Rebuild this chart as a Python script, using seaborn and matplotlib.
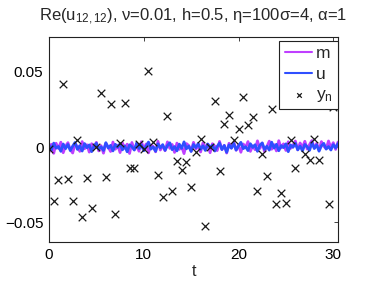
import numpy as np
import pandas as pd
import matplotlib
matplotlib.use("Agg")
import matplotlib.pyplot as plt
import seaborn as sns

# time grid of the filtered path (step 0.25)
t_grid = np.arange(0, 30.51, 0.25)

# u (blue) and m (magenta), values in units of 1e-3
u_vals = [1.2, -2.1, 2.6, -0.8, 0.4, -2.9, 2.0, -1.1, 1.7, -2.4,
          0.6, 3.0, -1.6, 0.9, -2.7, 2.3, -0.5, 1.4, -3.1, 0.8,
          2.5, -1.3, 0.1, -2.3, 2.9, -0.7, 1.1, -2.6, 1.8, -0.2,
          2.2, -1.9, 0.7, -3.2, 1.5, 0.2, -2.0, 2.7, -1.0, 1.3,
          -2.5, 0.5, 3.3, -1.4, 0.0, -2.8, 2.1, -0.6, 1.6, -2.2,
          0.9, 2.8, -1.8, 0.3, -2.6, 1.9, -0.9, 3.4, -1.2, 0.6,
          -3.0, 1.7, -0.4, 2.4, -1.5, 0.8, -2.3, 2.0, -0.1, 1.2,
          -2.7, 0.4, 2.6, -1.7, 1.0, -3.5, 1.4, -0.8, 2.3, -2.0,
          0.7, 3.1, -1.1, 0.2, -2.4, 2.2, -0.3, 1.5, -2.9, 1.1,
          2.7, -1.6, 0.5, -2.1, 3.2, -0.7, 1.8, -2.5, 0.9, -0.4,
          2.1, -3.1, 1.3, -0.2, 2.5, -1.9, 0.6, -2.6, 1.7, 0.1,
          -2.2, 2.9, -1.0, 1.4, -2.8, 0.8, 2.4, -1.4, 0.3, -2.0,
          1.6, -0.6, 2.3]
m_vals = [-3.5, 1.8, -4.2, 2.5, -1.0, 3.2, -3.8, 0.6, 2.9, -1.8,
          -4.0, 2.1, 0.3, -2.9, 3.6, -1.2, 1.5, -3.4, 2.2, -0.5,
          3.1, -2.6, 0.9, -4.1, 2.4, 0.0, -3.0, 3.3, -1.5, 1.2,
          -3.7, 2.7, -0.8, 1.9, -4.3, 3.0, -1.9, 0.7, -2.8, 3.5,
          -1.1, 2.0, -3.9, 1.4, 0.4, -3.2, 3.8, -2.0, 0.8, -2.5,
          3.4, -0.9, 1.7, -3.6, 2.6, -1.6, 0.2, -4.4, 2.3, 1.0,
          -2.7, 3.1, -1.3, 0.6, -3.3, 2.8, -0.4, 1.9, -3.8, 2.2,
          0.5, -2.4, 3.7, -1.7, 1.1, -4.0, 2.5, -0.7, 3.2, -2.2,
          1.3, -3.5, 2.0, -0.2, 3.6, -2.9, 0.8, -1.8, 4.1, -1.0,
          2.6, -3.1, 0.4, 3.9, -1.5, 1.6, -2.6, 4.2, -0.6, 2.1,
          -2.3, 3.5, -0.9, 1.2, 4.0, -1.9, 2.7, -0.3, 3.8, -1.4,
          1.7, 4.3, -0.8, 2.4, -2.0, 3.6, 0.5, -1.1, 4.0, -0.5,
          2.9, -1.6, 3.3]

# observations y_n
obs_t = [0, 0.5, 1.0, 1.5, 2.0, 2.5, 3.0, 3.5, 4.0, 4.5,
         5.0, 5.5, 6.0, 6.5, 7.0, 7.5, 8.0, 8.5, 9.0, 9.5,
         10.0, 10.5, 11.0, 11.5, 12.0, 12.5, 13.0, 13.5, 14.0, 14.5,
         15.0, 15.5, 16.0, 16.5, 17.0, 17.5, 18.0, 18.5, 19.0, 19.5,
         20.0, 20.5, 21.0, 21.5, 22.0, 22.5, 23.0, 23.5, 24.0, 24.5,
         25.0, 25.5, 26.0, 27.0, 27.5, 28.0, 28.5, 29.5, 30.0]
obs_y = [-1.0, -35.8, -22.0, 41.8, -21.3, -35.8, 4.5, -46.9, -20.9, -40.4,
         0.0, 35.8, -19.8, 28.7, -44.7, 2.4, 29.0, -14.2, -13.8, 2.2,
         -1.3, 50.7, 3.5, -18.7, -33.1, 20.9, -29.1, -9.1, -15.3, -10.2,
         -26.4, -3.0, 5.5, -52.7, 0.0, 30.5, -16.2, 15.6, 21.3, 4.7,
         12.2, 33.0, 14.7, 20.2, -29.1, -4.7, -19.3, 25.1, -38.0, -30.9,
         -37.1, 4.7, -14.2, -4.7, -8.9, 5.3, -8.9, -38.0, 26.7]

df_path = pd.DataFrame({'t': t_grid, 'm': np.array(m_vals) * 1e-3, 'u': np.array(u_vals) * 1e-3})
df_obs = pd.DataFrame({'t': obs_t, 'y': np.array(obs_y) * 1e-3})

sns.set_style('white')
plt.rcParams['font.family'] = ['Liberation Sans', 'DejaVu Sans']
plt.rcParams['mathtext.fontset'] = 'custom'
plt.rcParams['mathtext.rm'] = 'Liberation Sans'
plt.rcParams['mathtext.it'] = 'Liberation Sans:italic'

fig = plt.figure(figsize=(3.74, 2.81), dpi=100)
ax = fig.add_axes([49 / 374, 1 - 242 / 281, 289 / 374, 205 / 281])

sns.lineplot(data=df_path, x='t', y='m', ax=ax, color='#bf3fff', lw=2.0, label='m')
sns.lineplot(data=df_path, x='t', y='u', ax=ax, color='#2f4fff', lw=2.0, label='u')
sns.scatterplot(data=df_obs, x='t', y='y', ax=ax, marker='x', color='#1a1a1a',
                s=30, linewidth=0.9, label=r'$\mathregular{y_n}$', zorder=3)

ax.set_xlim(0, 30.5)
ax.set_ylim(-0.0633, 0.0733)
ax.set_xticks([0, 10, 20, 30])
ax.set_yticks([-0.05, 0, 0.05])
ax.set_yticklabels(['\u22120.05', '0', '0.05'])
ax.tick_params(direction='in', length=3, width=0.6, top=True, right=True,
               labelsize=11, pad=4, colors='#222222', labelcolor='black')
for sp in ax.spines.values():
    sp.set_color('#222222')
    sp.set_linewidth(0.8)

ax.set_xlabel('t', fontsize=11.5, labelpad=2)
ax.set_ylabel('')
ax.set_title(r'Re(u$\mathregular{_{12,12}}$), ν=0.01, h=0.5, η=100σ=4, α=1',
             fontsize=12, pad=12)

leg = ax.legend(loc='upper right', bbox_to_anchor=(1.0, 0.98), borderaxespad=0,
                fontsize=12.5, handlelength=1.6, handletextpad=0.2, labelspacing=0.3,
                borderpad=0.3, fancybox=False, framealpha=1, markerscale=0.6)
leg.get_frame().set_edgecolor('#222222')
leg.get_frame().set_linewidth(0.8)
for line in leg.get_lines():
    line.set_linewidth(1.5)

fig.savefig('out.png', dpi=100)
